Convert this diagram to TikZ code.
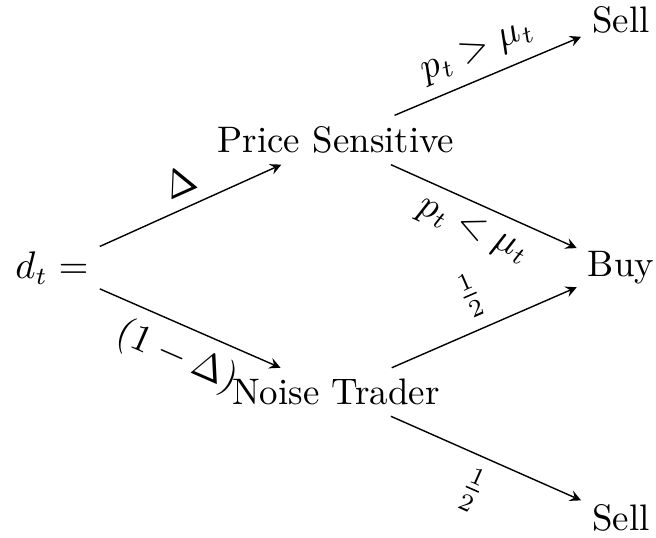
\documentclass[tikz,border=0pt]{standalone}
\usepackage{amsmath}
\usetikzlibrary{arrows.meta}
\begin{document}
\begin{tikzpicture}[
  font=\fontsize{10.5}{13}\selectfont,
  choice/.style={inner sep=3pt},
  branch/.style={-stealth,thin},
]
\useasboundingbox (0,0) rectangle (6.56,5.37);
\node[choice] (dt) at (0.52,2.69) {$d_t =$};
\node[choice] (ps) at (3.36,3.97) {Price Sensitive};
\node[choice] (nt) at (3.36,1.45) {Noise Trader};
\node[choice] (sellup) at (6.21,5.17) {Sell};
\node[choice] (buy) at (6.21,2.69) {Buy};
\node[choice] (selldown) at (6.21,0.19) {Sell};
% first stage
\draw[branch] (dt) -- node[above,sloped] {$\Delta$} (ps);
\draw[branch] (dt) -- node[below,sloped] {$(1-\Delta)$} (nt);
% second stage
\draw[branch] (ps) -- node[above,sloped] {$p_t > \mu_t$} (sellup);
\draw[branch] (ps) -- node[below,sloped] {$p_t < \mu_t$} (buy);
\draw[branch] (nt) -- node[above,sloped] {$\frac{1}{2}$} (buy);
\draw[branch] (nt) -- node[below,sloped] {$\frac{1}{2}$} (selldown);
\end{tikzpicture}
\end{document}
